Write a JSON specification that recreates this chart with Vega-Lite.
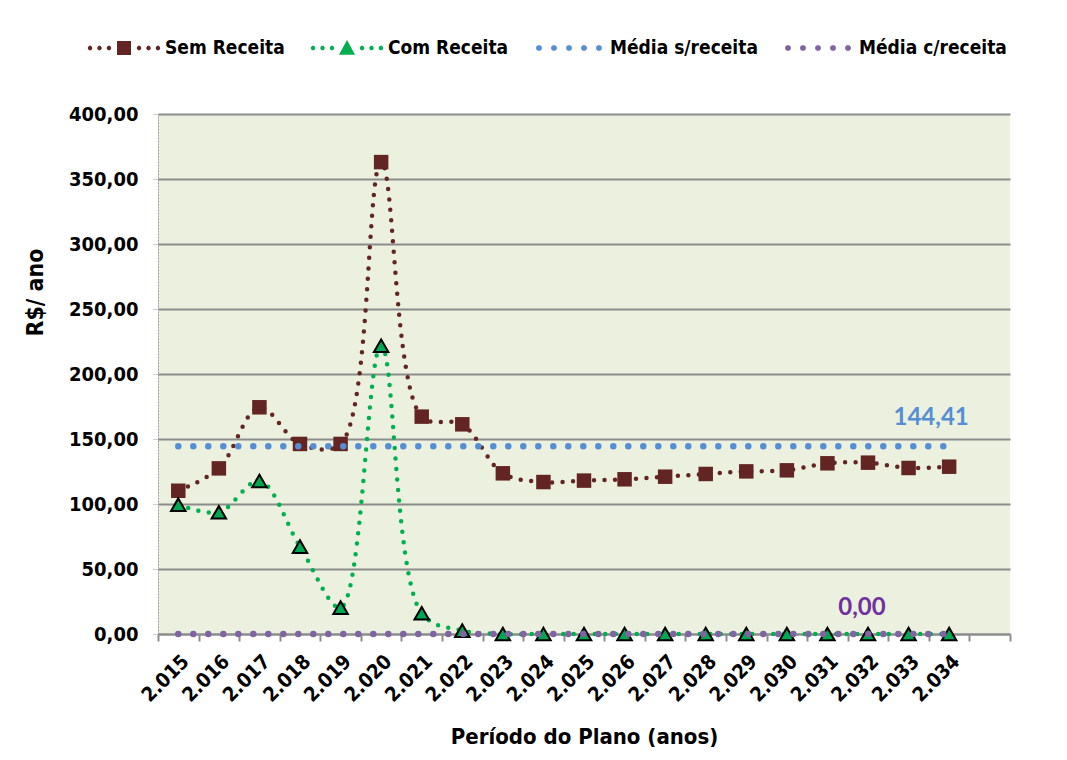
{
  "$schema": "https://vega.github.io/schema/vega-lite/v6.json",
  "width": 852,
  "height": 520,
  "autosize": {"type": "none"},
  "padding": {"left": 158, "top": 114, "right": 57, "bottom": 126},
  "background": "white",
  "config": {
    "font": "DejaVu Sans Condensed",
    "view": {"fill": "#EBF1DE", "stroke": null},
    "axis": {
      "labelFont": "DejaVu Sans Condensed",
      "titleFont": "DejaVu Sans Condensed",
      "labelFontWeight": "bold",
      "titleFontWeight": "bold",
      "labelColor": "black",
      "titleColor": "black"
    }
  },
  "datasets": {
    "series": [
      {"ano": "2.015", "serie": "Sem Receita", "valor": 110.2},
      {"ano": "2.016", "serie": "Sem Receita", "valor": 127.4},
      {"ano": "2.017", "serie": "Sem Receita", "valor": 174.4},
      {"ano": "2.018", "serie": "Sem Receita", "valor": 146.2},
      {"ano": "2.019", "serie": "Sem Receita", "valor": 146.2},
      {"ano": "2.020", "serie": "Sem Receita", "valor": 363.0},
      {"ano": "2.021", "serie": "Sem Receita", "valor": 167.2},
      {"ano": "2.022", "serie": "Sem Receita", "valor": 161.3},
      {"ano": "2.023", "serie": "Sem Receita", "valor": 123.6},
      {"ano": "2.024", "serie": "Sem Receita", "valor": 116.9},
      {"ano": "2.025", "serie": "Sem Receita", "valor": 118.0},
      {"ano": "2.026", "serie": "Sem Receita", "valor": 119.0},
      {"ano": "2.027", "serie": "Sem Receita", "valor": 121.0},
      {"ano": "2.028", "serie": "Sem Receita", "valor": 123.1},
      {"ano": "2.029", "serie": "Sem Receita", "valor": 125.1},
      {"ano": "2.030", "serie": "Sem Receita", "valor": 125.9},
      {"ano": "2.031", "serie": "Sem Receita", "valor": 131.3},
      {"ano": "2.032", "serie": "Sem Receita", "valor": 131.8},
      {"ano": "2.033", "serie": "Sem Receita", "valor": 127.7},
      {"ano": "2.034", "serie": "Sem Receita", "valor": 128.7},
      {"ano": "2.015", "serie": "Com Receita", "valor": 99.5},
      {"ano": "2.016", "serie": "Com Receita", "valor": 93.6},
      {"ano": "2.017", "serie": "Com Receita", "valor": 117.7},
      {"ano": "2.018", "serie": "Com Receita", "valor": 67.2},
      {"ano": "2.019", "serie": "Com Receita", "valor": 20.3},
      {"ano": "2.020", "serie": "Com Receita", "valor": 221.8},
      {"ano": "2.021", "serie": "Com Receita", "valor": 15.9},
      {"ano": "2.022", "serie": "Com Receita", "valor": 2.6},
      {"ano": "2.023", "serie": "Com Receita", "valor": 0},
      {"ano": "2.024", "serie": "Com Receita", "valor": 0},
      {"ano": "2.025", "serie": "Com Receita", "valor": 0},
      {"ano": "2.026", "serie": "Com Receita", "valor": 0},
      {"ano": "2.027", "serie": "Com Receita", "valor": 0},
      {"ano": "2.028", "serie": "Com Receita", "valor": 0},
      {"ano": "2.029", "serie": "Com Receita", "valor": 0},
      {"ano": "2.030", "serie": "Com Receita", "valor": 0},
      {"ano": "2.031", "serie": "Com Receita", "valor": 0},
      {"ano": "2.032", "serie": "Com Receita", "valor": 0},
      {"ano": "2.033", "serie": "Com Receita", "valor": 0},
      {"ano": "2.034", "serie": "Com Receita", "valor": 0}
    ],
    "medias": [
      {"ano": "2.015", "serie": "Média s/receita", "valor": 144.41},
      {"ano": "2.016", "serie": "Média s/receita", "valor": 144.41},
      {"ano": "2.017", "serie": "Média s/receita", "valor": 144.41},
      {"ano": "2.018", "serie": "Média s/receita", "valor": 144.41},
      {"ano": "2.019", "serie": "Média s/receita", "valor": 144.41},
      {"ano": "2.020", "serie": "Média s/receita", "valor": 144.41},
      {"ano": "2.021", "serie": "Média s/receita", "valor": 144.41},
      {"ano": "2.022", "serie": "Média s/receita", "valor": 144.41},
      {"ano": "2.023", "serie": "Média s/receita", "valor": 144.41},
      {"ano": "2.024", "serie": "Média s/receita", "valor": 144.41},
      {"ano": "2.025", "serie": "Média s/receita", "valor": 144.41},
      {"ano": "2.026", "serie": "Média s/receita", "valor": 144.41},
      {"ano": "2.027", "serie": "Média s/receita", "valor": 144.41},
      {"ano": "2.028", "serie": "Média s/receita", "valor": 144.41},
      {"ano": "2.029", "serie": "Média s/receita", "valor": 144.41},
      {"ano": "2.030", "serie": "Média s/receita", "valor": 144.41},
      {"ano": "2.031", "serie": "Média s/receita", "valor": 144.41},
      {"ano": "2.032", "serie": "Média s/receita", "valor": 144.41},
      {"ano": "2.033", "serie": "Média s/receita", "valor": 144.41},
      {"ano": "2.034", "serie": "Média s/receita", "valor": 144.41},
      {"ano": "2.015", "serie": "Média c/receita", "valor": 0},
      {"ano": "2.016", "serie": "Média c/receita", "valor": 0},
      {"ano": "2.017", "serie": "Média c/receita", "valor": 0},
      {"ano": "2.018", "serie": "Média c/receita", "valor": 0},
      {"ano": "2.019", "serie": "Média c/receita", "valor": 0},
      {"ano": "2.020", "serie": "Média c/receita", "valor": 0},
      {"ano": "2.021", "serie": "Média c/receita", "valor": 0},
      {"ano": "2.022", "serie": "Média c/receita", "valor": 0},
      {"ano": "2.023", "serie": "Média c/receita", "valor": 0},
      {"ano": "2.024", "serie": "Média c/receita", "valor": 0},
      {"ano": "2.025", "serie": "Média c/receita", "valor": 0},
      {"ano": "2.026", "serie": "Média c/receita", "valor": 0},
      {"ano": "2.027", "serie": "Média c/receita", "valor": 0},
      {"ano": "2.028", "serie": "Média c/receita", "valor": 0},
      {"ano": "2.029", "serie": "Média c/receita", "valor": 0},
      {"ano": "2.030", "serie": "Média c/receita", "valor": 0},
      {"ano": "2.031", "serie": "Média c/receita", "valor": 0},
      {"ano": "2.032", "serie": "Média c/receita", "valor": 0},
      {"ano": "2.033", "serie": "Média c/receita", "valor": 0},
      {"ano": "2.034", "serie": "Média c/receita", "valor": 0}
    ]
  },
  "layer": [
    {
      "data": {"name": "series"},
      "mark": {"type": "line", "interpolate": "catmull-rom", "strokeWidth": 4.5, "strokeDash": [0, 10.5], "strokeCap": "round"},
      "encoding": {
        "x": {
          "field": "ano",
          "type": "ordinal",
          "sort": null,
          "scale": {
            "type": "band",
            "domain": ["2.015", "2.016", "2.017", "2.018", "2.019", "2.020", "2.021", "2.022", "2.023", "2.024", "2.025", "2.026", "2.027", "2.028", "2.029", "2.030", "2.031", "2.032", "2.033", "2.034", "2.035"],
            "paddingInner": 0,
            "paddingOuter": 0
          },
          "axis": {
            "title": "Período do Plano (anos)",
            "titleFontSize": 22,
            "titleY": 109,
            "titleBaseline": "alphabetic",
            "labelFontSize": 20,
            "labelAngle": -45,
            "labelExpr": "datum.value == '2.035' ? '' : datum.value",
            "labelPadding": 10,
            "tickBand": "extent",
            "tickSize": 7,
            "tickColor": "#8c8c8c",
            "tickWidth": 2,
            "domainColor": "#8c8c8c",
            "domainWidth": 2,
            "grid": false
          }
        },
        "y": {
          "field": "valor",
          "type": "quantitative",
          "scale": {"domain": [0, 400], "nice": false},
          "axis": {
            "title": "R$/ ano",
            "titleFontSize": 23,
            "titleAngle": -90,
            "titleX": -123,
            "titleY": 178,
            "titleAlign": "center",
            "titleBaseline": "middle",
            "values": [0, 50, 100, 150, 200, 250, 300, 350, 400],
            "labelExpr": "replace(format(datum.value, '.2f'), '.', ',')",
            "labelFontSize": 20,
            "labelPadding": 14,
            "tickSize": 6,
            "tickColor": "#9a9a9a",
            "tickDash": [1, 1],
            "domainColor": "#9a9a9a",
            "domainDash": [2, 1],
            "grid": true,
            "gridColor": "#8c8c8c",
            "gridWidth": 2
          }
        },
        "color": {
          "field": "serie",
          "type": "nominal",
          "scale": {
            "domain": ["Sem Receita", "Com Receita", "Média s/receita", "Média c/receita"],
            "range": ["#632523", "#00B050", "#558ED5", "#8064A2"]
          },
          "legend": {
            "title": null,
            "orient": "none",
            "legendX": -69,
            "legendY": -101,
            "direction": "horizontal",
            "columns": 4,
            "columnPadding": 25,
            "symbolSize": 4900,
            "symbolType": "circle",
            "labelFontSize": 19,
            "labelFontWeight": "bold",
            "labelFont": "DejaVu Sans Condensed",
            "labelColor": "black",
            "labelOffset": 6,
            "labelLimit": 0,
            "padding": 0,
            "encoding": {
              "symbols": {
                "shape": {
                  "condition": [
                    {"test": "datum.value === 'Sem Receita'", "value": "M-0.909,-0.025L-0.909,0.025L-0.945,0.061L-0.995,0.061L-1.031,0.025L-1.031,-0.025L-0.995,-0.061L-0.945,-0.061ZM-0.639,-0.025L-0.639,0.025L-0.675,0.061L-0.725,0.061L-0.761,0.025L-0.761,-0.025L-0.725,-0.061L-0.675,-0.061ZM-0.369,-0.025L-0.369,0.025L-0.405,0.061L-0.455,0.061L-0.491,0.025L-0.491,-0.025L-0.455,-0.061L-0.405,-0.061ZM0.491,-0.025L0.491,0.025L0.455,0.061L0.405,0.061L0.369,0.025L0.369,-0.025L0.405,-0.061L0.455,-0.061ZM0.761,-0.025L0.761,0.025L0.725,0.061L0.675,0.061L0.639,0.025L0.639,-0.025L0.675,-0.061L0.725,-0.061ZM1.031,-0.025L1.031,0.025L0.995,0.061L0.945,0.061L0.909,0.025L0.909,-0.025L0.945,-0.061L0.995,-0.061ZM-0.2,-0.2L0.2,-0.2L0.2,0.2L-0.2,0.2Z"},
                    {"test": "datum.value === 'Com Receita'", "value": "M-0.909,-0.025L-0.909,0.025L-0.945,0.061L-0.995,0.061L-1.031,0.025L-1.031,-0.025L-0.995,-0.061L-0.945,-0.061ZM-0.639,-0.025L-0.639,0.025L-0.675,0.061L-0.725,0.061L-0.761,0.025L-0.761,-0.025L-0.725,-0.061L-0.675,-0.061ZM-0.369,-0.025L-0.369,0.025L-0.405,0.061L-0.455,0.061L-0.491,0.025L-0.491,-0.025L-0.455,-0.061L-0.405,-0.061ZM0.491,-0.025L0.491,0.025L0.455,0.061L0.405,0.061L0.369,0.025L0.369,-0.025L0.405,-0.061L0.455,-0.061ZM0.761,-0.025L0.761,0.025L0.725,0.061L0.675,0.061L0.639,0.025L0.639,-0.025L0.675,-0.061L0.725,-0.061ZM1.031,-0.025L1.031,0.025L0.995,0.061L0.945,0.061L0.909,0.025L0.909,-0.025L0.945,-0.061L0.995,-0.061ZM0,-0.23L0.23,0.19L-0.23,0.19Z"}
                  ],
                  "value": "M-0.776,-0.034L-0.776,0.034L-0.823,0.081L-0.891,0.081L-0.938,0.034L-0.938,-0.034L-0.891,-0.081L-0.823,-0.081ZM-0.348,-0.034L-0.348,0.034L-0.395,0.081L-0.463,0.081L-0.510,0.034L-0.510,-0.034L-0.463,-0.081L-0.395,-0.081ZM0.081,-0.034L0.081,0.034L0.034,0.081L-0.034,0.081L-0.081,0.034L-0.081,-0.034L-0.034,-0.081L0.034,-0.081ZM0.510,-0.034L0.510,0.034L0.463,0.081L0.395,0.081L0.348,0.034L0.348,-0.034L0.395,-0.081L0.463,-0.081ZM0.938,-0.034L0.938,0.034L0.891,0.081L0.823,0.081L0.776,0.034L0.776,-0.034L0.823,-0.081L0.891,-0.081Z"
                },
                "fill": {
                  "condition": [
                    {"test": "datum.value === 'Sem Receita'", "value": "#632523"},
                    {"test": "datum.value === 'Com Receita'", "value": "#00B050"},
                    {"test": "datum.value === 'Média s/receita'", "value": "#558ED5"}
                  ],
                  "value": "#8064A2"
                },
                "strokeWidth": {"value": 0},
                "opacity": {"value": 1},
                "fillOpacity": {"value": 1}
              }
            }
          }
        }
      }
    },
    {
      "data": {"name": "series"},
      "transform": [{"filter": "datum.serie === 'Sem Receita'"}],
      "mark": {"type": "point", "shape": "square", "size": 210, "filled": true, "fill": "#632523", "opacity": 1, "strokeWidth": 0},
      "encoding": {
        "x": {"field": "ano", "type": "ordinal", "sort": null},
        "y": {"field": "valor", "type": "quantitative"}
      }
    },
    {
      "data": {"name": "series"},
      "transform": [{"filter": "datum.serie === 'Com Receita'"}],
      "mark": {"type": "point", "shape": "triangle-up", "size": 210, "filled": true, "fill": "#00A651", "stroke": "black", "strokeWidth": 2, "opacity": 1},
      "encoding": {
        "x": {"field": "ano", "type": "ordinal", "sort": null},
        "y": {"field": "valor", "type": "quantitative"}
      }
    },
    {
      "data": {"name": "medias"},
      "mark": {"type": "line", "strokeWidth": 6.5, "strokeDash": [0, 15], "strokeCap": "round"},
      "encoding": {
        "x": {"field": "ano", "type": "ordinal", "sort": null},
        "y": {"field": "valor", "type": "quantitative"},
        "color": {"field": "serie", "type": "nominal"}
      }
    },
    {
      "data": {"values": [{"ano": "2.034", "valor": 144.41, "rotulo": "144,41"}]},
      "mark": {"type": "text", "font": "Lato", "fontWeight": "bold", "fontSize": 24, "color": "#558ED5", "dx": -18, "dy": -28, "align": "center", "baseline": "middle"},
      "encoding": {
        "x": {"field": "ano", "type": "ordinal", "sort": null},
        "y": {"field": "valor", "type": "quantitative"},
        "text": {"field": "rotulo"}
      }
    },
    {
      "data": {"values": [{"ano": "2.032", "valor": 0, "rotulo": "0,00"}]},
      "mark": {"type": "text", "font": "Lato", "fontWeight": "bold", "fontSize": 24, "color": "#7030A0", "dx": -6, "dy": -26, "align": "center", "baseline": "middle"},
      "encoding": {
        "x": {"field": "ano", "type": "ordinal", "sort": null},
        "y": {"field": "valor", "type": "quantitative"},
        "text": {"field": "rotulo"}
      }
    }
  ]
}
